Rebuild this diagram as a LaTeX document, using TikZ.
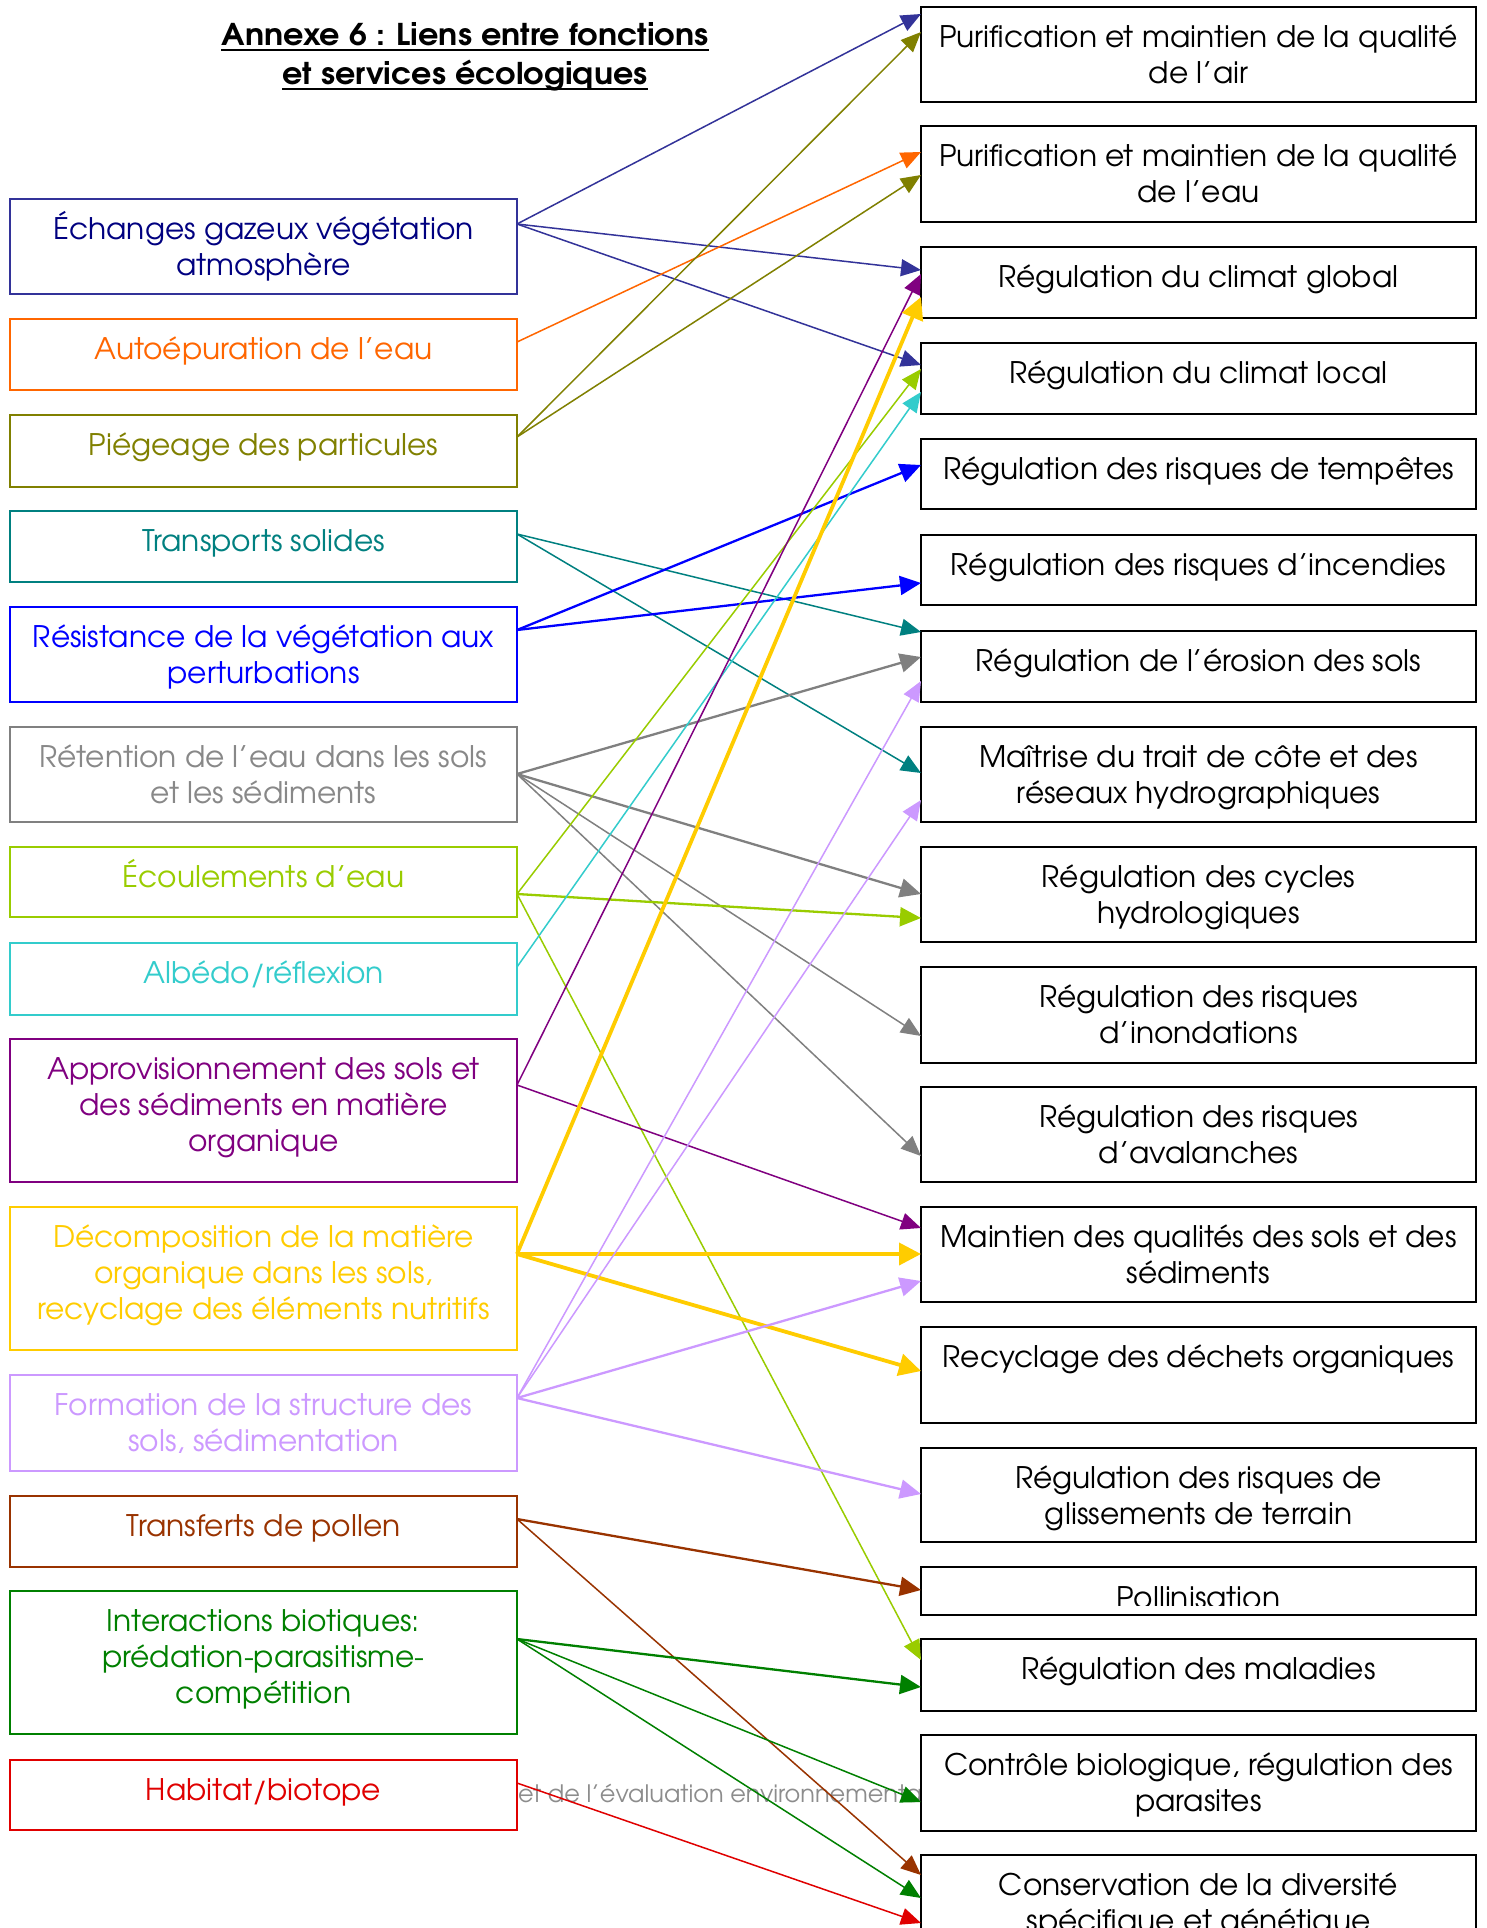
\documentclass[tikz,border=0pt]{standalone}
\usepackage{fontspec}
\setmainfont{TeX Gyre Adventor}
\usetikzlibrary{arrows.meta}
\definecolor{cnavy}{HTML}{333399}
\definecolor{tnavy}{HTML}{000080}
\definecolor{corange}{HTML}{FF6600}
\definecolor{colive}{HTML}{808000}
\definecolor{cteal}{HTML}{008080}
\definecolor{cblue}{HTML}{0000FF}
\definecolor{cgray}{HTML}{808080}
\definecolor{tgray}{HTML}{888888}
\definecolor{cygreen}{HTML}{99CC00}
\definecolor{cturq}{HTML}{33CCCC}
\definecolor{cpurple}{HTML}{800080}
\definecolor{cgold}{HTML}{FFCC00}
\definecolor{clav}{HTML}{CC99FF}
\definecolor{cbrown}{HTML}{993300}
\definecolor{cgreen}{HTML}{008000}
\definecolor{cred}{HTML}{E00000}
\definecolor{footgray}{HTML}{8C8C8C}
\newcommand\bodyfont{\fontsize{29.7}{36}\selectfont}
\newcommand\titlefont{\fontsize{30}{38}\selectfont\bfseries}
\newcommand\btext[1]{\parbox[t]{540pt}{\centering #1}}
\begin{document}
\begin{tikzpicture}[x=1pt,y=-1pt,
  lbox/.style={draw=#1, line width=1.8pt, fill=white, minimum width=507pt, inner sep=0pt, outer sep=0pt, anchor=north west},
  rbox/.style={draw=black, line width=2.6pt, fill=white, minimum width=555pt, inner sep=0pt, outer sep=0pt, anchor=north west},
  btxt/.style={text=#1, anchor=base, inner sep=0pt, font=\bodyfont},
  conn/.style={draw=#1, line width=1.5pt, -{Triangle[length=20pt,width=17pt]}},
  connm/.style={draw=#1, line width=2.3pt, -{Triangle[length=21pt,width=19pt]}},
  connk/.style={draw=#1, line width=3.8pt, -{Triangle[length=22pt,width=22pt]}}]
\useasboundingbox (0,0) rectangle (1487,1928);
\clip (0,0) rectangle (1487,1928);
\fill[white] (0,0) rectangle (1487,1928);

% title
\node[anchor=base, inner sep=0pt] (T1) at (465,45) {\resizebox{487pt}{\height}{\titlefont Annexe 6 : Liens entre fonctions}};
\node[anchor=base, inner sep=0pt] (T2) at (465,84) {\resizebox{365pt}{\height}{\titlefont et services écologiques}};
\draw[line width=2.4pt] ([yshift=-5pt]T1.base west) -- ([yshift=-5pt]T1.base east);
\draw[line width=2.4pt] ([yshift=-5pt]T2.base west) -- ([yshift=-5pt]T2.base east);

% footer text partly hidden
\node[anchor=base west, inner sep=0pt, text=footgray, font=\fontsize{24}{28}\selectfont] (foot) at (518,1802) {et de l’évaluation environnementa};

% left boxes
\node[lbox=cnavy, minimum height=95pt] (L1) at (10,199) {};
\node[lbox=corange, minimum height=71pt] (L2) at (10,319) {};
\node[lbox=colive, minimum height=72pt] (L3) at (10,415) {};
\node[lbox=cteal, minimum height=71pt] (L4) at (10,511) {};
\node[lbox=cblue, minimum height=95pt] (L5) at (10,607) {};
\node[lbox=cgray, minimum height=95pt] (L6) at (10,727) {};
\node[lbox=cygreen, minimum height=70pt] (L7) at (10,847) {};
\node[lbox=cturq, minimum height=72pt] (L8) at (10,943) {};
\node[lbox=cpurple, minimum height=143pt] (L9) at (10,1039) {};
\node[lbox=cgold, minimum height=143pt] (L10) at (10,1207) {};
\node[lbox=clav, minimum height=96pt] (L11) at (10,1375) {};
\node[lbox=cbrown, minimum height=71pt] (L12) at (10,1496) {};
\node[lbox=cgreen, minimum height=143pt] (L13) at (10,1591) {};
\node[lbox=cred, minimum height=70pt] (L14) at (10,1760) {};

\node[btxt=tnavy] (L1t) at ([yshift=-40pt]L1.north) {\btext{Échanges gazeux végétation\\atmosphère}};
\node[btxt=corange] (L2t) at ([yshift=-40pt]L2.north) {\btext{Autoépuration de l’eau}};
\node[btxt=colive] (L3t) at ([yshift=-40pt]L3.north) {\btext{Piégeage des particules}};
\node[btxt=cteal] (L4t) at ([yshift=-40pt]L4.north) {\btext{Transports solides}};
\node[btxt=cblue] (L5t) at ([yshift=-40pt]L5.north) {\btext{Résistance de la végétation aux\\perturbations}};
\node[btxt=tgray] (L6t) at ([yshift=-40pt]L6.north) {\btext{Rétention de l’eau dans les sols\\et les sédiments}};
\node[btxt=cygreen] (L7t) at ([yshift=-40pt]L7.north) {\btext{Écoulements d’eau}};
\node[btxt=cturq] (L8t) at ([yshift=-40pt]L8.north) {\btext{Albédo/réflexion}};
\node[btxt=cpurple] (L9t) at ([yshift=-40pt]L9.north) {\btext{Approvisionnement des sols et\\des sédiments en matière\\organique}};
\node[btxt=cgold] (L10t) at ([yshift=-40pt]L10.north) {\btext{Décomposition de la matière\\organique dans les sols,\\recyclage des éléments nutritifs}};
\node[btxt=clav] (L11t) at ([yshift=-40pt]L11.north) {\btext{Formation de la structure des\\sols, sédimentation}};
\node[btxt=cbrown] (L12t) at ([yshift=-40pt]L12.north) {\btext{Transferts de pollen}};
\node[btxt=cgreen] (L13t) at ([yshift=-40pt]L13.north) {\btext{Interactions biotiques:\\prédation-parasitisme-\\compétition}};
\node[btxt=cred] (L14t) at ([yshift=-40pt]L14.north) {\btext{Habitat/biotope}};

% right boxes
\node[rbox, minimum height=95pt] (R1) at (921,7) {};
\node[rbox, minimum height=96pt] (R2) at (921,126) {};
\node[rbox, minimum height=71pt] (R3) at (921,247) {};
\node[rbox, minimum height=71pt] (R4) at (921,343) {};
\node[rbox, minimum height=70pt] (R5) at (921,439) {};
\node[rbox, minimum height=70pt] (R6) at (921,535) {};
\node[rbox, minimum height=71pt] (R7) at (921,631) {};
\node[rbox, minimum height=95pt] (R8) at (921,727) {};
\node[rbox, minimum height=95pt] (R9) at (921,847) {};
\node[rbox, minimum height=96pt] (R10) at (921,967) {};
\node[rbox, minimum height=95pt] (R11) at (921,1087) {};
\node[rbox, minimum height=95pt] (R12) at (921,1207) {};
\node[rbox, minimum height=96pt] (R13) at (921,1327) {};
\node[rbox, minimum height=94pt] (R14) at (921,1448) {};
\node[rbox, minimum height=48pt] (R15) at (921,1567) {};
\node[rbox, minimum height=72pt] (R16) at (921,1639) {};
\node[rbox, minimum height=96pt] (R17) at (921,1735) {};
\node[rbox, minimum height=96pt] (R18) at (921,1855) {};

\node[btxt=black] (R1t) at ([yshift=-40pt]R1.north) {\btext{Purification et maintien de la qualité\\de l’air}};
\node[btxt=black] (R2t) at ([yshift=-40pt]R2.north) {\btext{Purification et maintien de la qualité\\de l’eau}};
\node[btxt=black] (R3t) at ([yshift=-40pt]R3.north) {\btext{Régulation du climat global}};
\node[btxt=black] (R4t) at ([yshift=-40pt]R4.north) {\btext{Régulation du climat local}};
\node[btxt=black] (R5t) at ([yshift=-40pt]R5.north) {\btext{Régulation des risques de tempêtes}};
\node[btxt=black] (R6t) at ([yshift=-40pt]R6.north) {\btext{Régulation des risques d’incendies}};
\node[btxt=black] (R7t) at ([yshift=-40pt]R7.north) {\btext{Régulation de l’érosion des sols}};
\node[btxt=black] (R8t) at ([yshift=-40pt]R8.north) {\btext{Maîtrise du trait de côte et des\\réseaux hydrographiques}};
\node[btxt=black] (R9t) at ([yshift=-40pt]R9.north) {\btext{Régulation des cycles\\hydrologiques}};
\node[btxt=black] (R10t) at ([yshift=-40pt]R10.north) {\btext{Régulation des risques\\d’inondations}};
\node[btxt=black] (R11t) at ([yshift=-40pt]R11.north) {\btext{Régulation des risques\\d’avalanches}};
\node[btxt=black] (R12t) at ([yshift=-40pt]R12.north) {\btext{Maintien des qualités des sols et des\\sédiments}};
\node[btxt=black] (R13t) at ([yshift=-40pt]R13.north) {\btext{Recyclage des déchets organiques}};
\node[btxt=black] (R14t) at ([yshift=-40pt]R14.north) {\btext{Régulation des risques de\\glissements de terrain}};
\begin{scope}
\clip ([xshift=2pt]R15.north west) rectangle ([yshift=10pt,xshift=-2pt]R15.south east);
\node[btxt=black] (R15t) at ([yshift=-41pt]R15.north) {\btext{Pollinisation}};
\end{scope}
\node[btxt=black] (R16t) at ([yshift=-40pt]R16.north) {\btext{Régulation des maladies}};
\node[btxt=black] (R17t) at ([yshift=-40pt]R17.north) {\btext{Contrôle biologique, régulation des\\parasites}};
\node[btxt=black] (R18t) at ([yshift=-40pt]R18.north) {\btext{Conservation de la diversité\\spécifique et génétique}};

% connectors
\draw[conn=cnavy] ([yshift=-25pt]L1.north east) -- ([yshift=-7pt]R1.north west);
\draw[conn=cnavy] ([yshift=-25pt]L1.north east) -- ([yshift=-23pt]R3.north west);
\draw[conn=cnavy] ([yshift=-25pt]L1.north east) -- ([yshift=-22pt]R4.north west);
\draw[conn=corange] ([yshift=-23pt]L2.north east) -- ([yshift=-26pt]R2.north west);
\draw[conn=colive] ([yshift=-22pt]L3.north east) -- ([yshift=-25pt]R1.north west);
\draw[conn=colive] ([yshift=-22pt]L3.north east) -- ([yshift=-49pt]R2.north west);
\draw[conn=cteal] ([yshift=-23pt]L4.north east) -- ([yshift=-1pt]R7.north west);
\draw[conn=cteal] ([yshift=-23pt]L4.north east) -- ([yshift=-46pt]R8.north west);
\draw[connm=cblue] ([yshift=-23pt]L5.north east) -- ([yshift=-26pt]R5.north west);
\draw[connm=cblue] ([yshift=-23pt]L5.north east) -- ([yshift=-48pt]R6.north west);
\draw[connm=cgray] ([yshift=-47pt]L6.north east) -- ([yshift=-26pt]R7.north west);
\draw[connm=cgray] ([yshift=-47pt]L6.north east) -- ([yshift=-47pt]R9.north west);
\draw[conn=cgray] ([yshift=-47pt]L6.north east) -- ([yshift=-69pt]R10.north west);
\draw[conn=cgray] ([yshift=-47pt]L6.north east) -- ([yshift=-69pt]R11.north west);
\draw[conn=cygreen] ([yshift=-47pt]L7.north east) -- ([yshift=-26pt]R4.north west);
\draw[connm=cygreen] ([yshift=-47pt]L7.north east) -- ([yshift=-71pt]R9.north west);
\draw[conn=cygreen] ([yshift=-47pt]L7.north east) -- ([yshift=-21pt]R16.north west);
\draw[conn=cturq] ([yshift=-24pt]L8.north east) -- ([yshift=-49pt]R4.north west);
\draw[conn=cpurple] ([yshift=-46pt]L9.north east) -- ([yshift=-27pt]R3.north west);
\draw[conn=cpurple] ([yshift=-46pt]L9.north east) -- ([yshift=-21pt]R12.north west);
\draw[connk=cgold] ([yshift=-47pt]L10.north east) -- ([yshift=-50pt]R3.north west);
\draw[connk=cgold] ([yshift=-47pt]L10.north east) -- ([yshift=-47pt]R12.north west);
\draw[connk=cgold] ([yshift=-47pt]L10.north east) -- ([yshift=-44pt]R13.north west);
\draw[conn=clav] ([yshift=-23pt]L11.north east) -- ([yshift=-50pt]R7.north west);
\draw[conn=clav] ([yshift=-23pt]L11.north east) -- ([yshift=-73pt]R8.north west);
\draw[connm=clav] ([yshift=-23pt]L11.north east) -- ([yshift=-74pt]R12.north west);
\draw[connm=clav] ([yshift=-23pt]L11.north east) -- ([yshift=-46pt]R14.north west);
\draw[connm=cbrown] ([yshift=-23pt]L12.north east) -- ([yshift=-23pt]R15.north west);
\draw[conn=cbrown] ([yshift=-23pt]L12.north east) -- ([yshift=-20pt]R18.north west);
\draw[connm=cgreen] ([yshift=-48pt]L13.north east) -- ([yshift=-48pt]R16.north west);
\draw[conn=cgreen] ([yshift=-48pt]L13.north east) -- ([yshift=-67pt]R17.north west);
\draw[conn=cgreen] ([yshift=-48pt]L13.north east) -- ([yshift=-43pt]R18.north west);
\draw[conn=cred] ([yshift=-23pt]L14.north east) -- ([yshift=-68pt]R18.north west);
\end{tikzpicture}
\end{document}
